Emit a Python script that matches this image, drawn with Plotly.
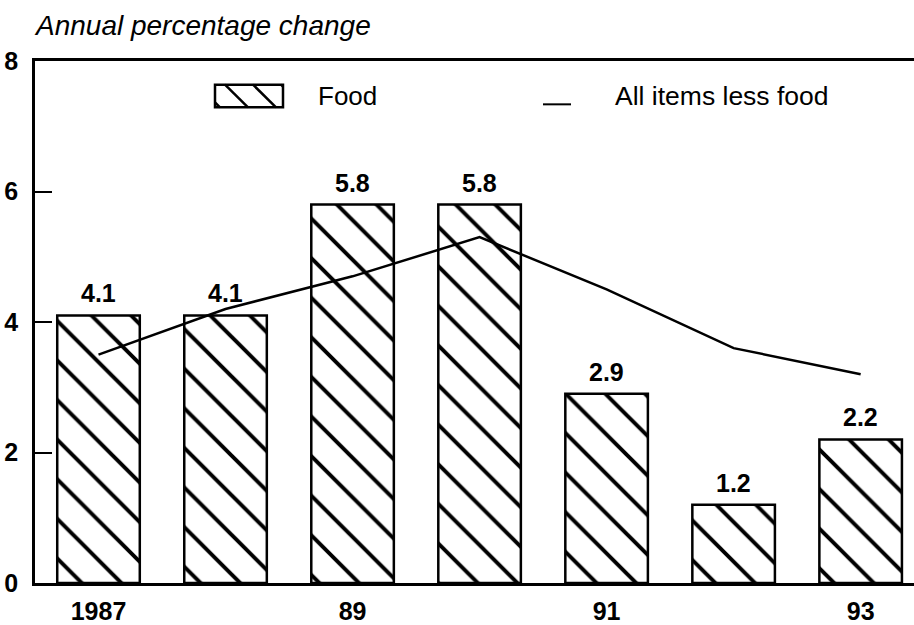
import plotly.graph_objects as go

# Consumer price inflation, annual percentage change
years = [1987, 1988, 1989, 1990, 1991, 1992, 1993]
food = [4.1, 4.1, 5.8, 5.8, 2.9, 1.2, 2.2]
all_less_food = [3.5, 4.2, 4.7, 5.3, 4.5, 3.6, 3.2]

tick_years = [1987, 1989, 1991, 1993]
tick_text = ["1987", "89", "91", "93"]
y_ticks = [0, 2, 4, 6, 8]

W, H = 914, 625
M_L, M_R, M_T, M_B = 35, 0, 61, 34
PLOT_W = W - M_L - M_R
PLOT_H = H - M_T - M_B

FONT = "Liberation Sans, Arial, Helvetica, sans-serif"


def px_x(x):
    return (x - M_L) / PLOT_W


def px_y(y):
    return (H - M_B - y) / PLOT_H


fig = go.Figure()

fig.add_trace(go.Bar(
    x=years,
    y=food,
    width=0.65,
    name="Food",
    marker=dict(
        color="white",
        line=dict(color="black", width=2.5),
        pattern=dict(shape="\\", fgcolor="black", bgcolor="white",
                     fgopacity=1, size=28, solidity=0.14),
    ),
    showlegend=False,
))

fig.add_trace(go.Scatter(
    x=years,
    y=all_less_food,
    mode="lines",
    name="All items less food",
    line=dict(color="black", width=2.5),
    showlegend=False,
))

annotations = []
for yr, v in zip(years, food):
    annotations.append(dict(
        x=yr, y=v, xref="x", yref="y", text=f"{v:.1f}",
        showarrow=False, yanchor="bottom", yshift=6,
        font=dict(family=FONT, size=25, color="black", weight="bold"),
    ))

annotations.append(dict(
    x=0, y=px_y(43), xref="paper", yref="paper",
    text="Annual percentage change", showarrow=False,
    xanchor="left", yanchor="bottom", xshift=-3,
    font=dict(family=FONT, size=28, color="black", style="italic"),
))

# Legend entries
annotations.append(dict(
    x=px_x(316), y=px_y(97), xref="paper", yref="paper", text="Food",
    showarrow=False, xanchor="left", yanchor="middle",
    font=dict(family=FONT, size=26, color="black"),
))
annotations.append(dict(
    x=px_x(613), y=px_y(97), xref="paper", yref="paper",
    text="All items less food", showarrow=False,
    xanchor="left", yanchor="middle",
    font=dict(family=FONT, size=26.5, color="black"),
))

shapes = []
# hatched swatch for the food bars
bx0, bx1, by0, by1 = 215, 283, 85, 108
shapes.append(dict(type="rect", xref="paper", yref="paper",
                   x0=px_x(bx0), x1=px_x(bx1), y0=px_y(by1), y1=px_y(by0),
                   line=dict(color="black", width=2.5), fillcolor="white"))
for t in (197, 225, 253, 281):
    xa, ya = t, by0
    xb, yb = t + (by1 - by0), by1
    if xa < bx0:
        ya = by0 + (bx0 - xa)
        xa = bx0
    if xb > bx1:
        yb = by1 - (xb - bx1)
        xb = bx1
    shapes.append(dict(type="line", xref="paper", yref="paper",
                       x0=px_x(xa), y0=px_y(ya), x1=px_x(xb), y1=px_y(yb),
                       line=dict(color="black", width=2.5)))
# line sample for the non-food series
shapes.append(dict(type="line", xref="paper", yref="paper",
                   x0=px_x(543), x1=px_x(571), y0=px_y(105), y1=px_y(105),
                   line=dict(color="black", width=2)))

fig.update_layout(
    width=W, height=H,
    margin=dict(l=M_L, r=M_R, t=M_T, b=M_B, pad=0),
    paper_bgcolor="white", plot_bgcolor="white",
    showlegend=False,
    bargap=0.35,
    annotations=annotations,
    shapes=shapes,
    xaxis=dict(
        range=[1986.5, 1993.42],
        tickmode="array", tickvals=tick_years, ticktext=tick_text,
        showline=True, linecolor="black", linewidth=2.5, mirror=True,
        showgrid=False, zeroline=False, ticks="",
        ticklabelstandoff=4,
        tickfont=dict(family=FONT, size=25, color="black", weight="bold"),
    ),
    yaxis=dict(
        range=[0, 8],
        tickmode="array", tickvals=y_ticks,
        showline=True, linecolor="black", linewidth=2.5,
        showgrid=False, zeroline=False,
        ticks="inside", ticklen=17, tickwidth=2, tickcolor="black",
        ticklabelstandoff=9,
        tickfont=dict(family=FONT, size=25, color="black", weight="bold"),
    ),
)

fig.write_html("out.html")
